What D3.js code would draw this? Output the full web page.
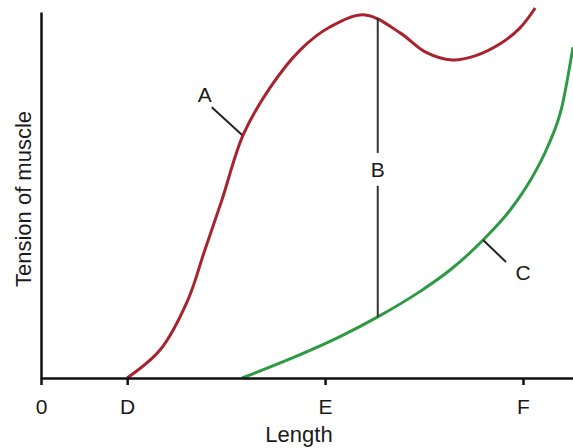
<!DOCTYPE html>
<html>
<head>
  <meta charset="utf-8">
  <style>
    body {
      margin: 0;
      background: white;
      font-family: "Liberation Sans", Arial, Helvetica, sans-serif;
    }
    svg {
      display: block;
    }
  </style>
  <script src="https://d3js.org/d3.v7.min.js"></script>
</head>
<body>
  <svg id="chart"></svg>
<script>
  // Curve A (active + passive tension), length vs tension, arbitrary units
  let curveALength = [16.2, 22.4, 27.6, 30.8, 34.0, 38.0, 43.0, 48.7, 54.3, 60.9, 67.5, 72.2, 77.3, 81.6, 86.3, 90.0, 92.9];
  let curveATension = [0, 7.7, 21.3, 35.0, 48.6, 66.4, 79.2, 89.6, 95.9, 99.2, 94.3, 89.1, 86.9, 88.0, 91.3, 95.6, 101.1];

  // Curve C (passive tension)
  let curveCLength = [37.8, 46.8, 56.2, 63.3, 71.2, 76.9, 83.1, 88.2, 91.9, 95.3, 97.9, 100];
  let curveCTension = [0, 5.2, 11.3, 16.7, 23.6, 29.5, 37.7, 45.9, 53.8, 63.4, 74.0, 90.4];

  // x axis ticks
  let tickValues = [0, 16.2, 53.4, 90.6];
  let tickLabels = ["0", "D", "E", "F"];

  // B: difference between the curves at one length
  let bLength = 63.3;
  let bTop = 98.4;
  let bBottom = 16.7;
  let bLabelTension = 57;
  let bGap = [52.5, 61.5];

  // label leaders
  let labelA = { text: "A", x: 30.8, y: 77.3, from: [32.1, 74.0], to: [37.8, 66.4] };
  let labelC = { text: "C", x: 90.6, y: 28.7, from: [87.4, 31.7], to: [83.1, 37.7] };

  let width = 573;
  let height = 448;
  let margin = { left: 41, top: 12, bottom: 70 };
  let fontSize = 21;

  let svg = d3.select("#chart")
    .attr("width", width)
    .attr("height", height);

  let xScale = d3.scaleLinear()
    .domain([0, 100])
    .range([margin.left, width]);

  let yScale = d3.scaleLinear()
    .domain([0, 100])
    .range([height - margin.bottom, margin.top]);

  let lineA = d3.line()
    .x(d => xScale(d[0]))
    .y(d => yScale(d[1]))
    .curve(d3.curveCatmullRom.alpha(0.5));

  let lineC = d3.line()
    .x(d => xScale(d[0]))
    .y(d => yScale(d[1]))
    .curve(d3.curveMonotoneX);

  let textColor = "#1a1a1a";

  // curves
  svg.append("path")
    .attr("d", lineC(d3.zip(curveCLength, curveCTension)))
    .attr("fill", "none")
    .attr("stroke", "#2f9a45")
    .attr("stroke-width", 3);

  svg.append("path")
    .attr("d", lineA(d3.zip(curveALength, curveATension)))
    .attr("fill", "none")
    .attr("stroke", "#a8232d")
    .attr("stroke-width", 3);

  // B line with a gap for the label
  svg.append("line")
    .attr("x1", xScale(bLength)).attr("x2", xScale(bLength))
    .attr("y1", yScale(bTop)).attr("y2", yScale(bGap[1]))
    .attr("stroke", "#333").attr("stroke-width", 2);
  svg.append("line")
    .attr("x1", xScale(bLength)).attr("x2", xScale(bLength))
    .attr("y1", yScale(bGap[0])).attr("y2", yScale(bBottom))
    .attr("stroke", "#333").attr("stroke-width", 2);
  svg.append("text")
    .attr("x", xScale(bLength))
    .attr("y", yScale(bLabelTension))
    .attr("dy", "0.35em")
    .attr("text-anchor", "middle")
    .attr("font-size", fontSize)
    .attr("fill", textColor)
    .text("B");

  // A and C labels
  [labelA, labelC].forEach(l => {
    svg.append("line")
      .attr("x1", xScale(l.from[0])).attr("y1", yScale(l.from[1]))
      .attr("x2", xScale(l.to[0])).attr("y2", yScale(l.to[1]))
      .attr("stroke", "#222").attr("stroke-width", 2);
    svg.append("text")
      .attr("x", xScale(l.x))
      .attr("y", yScale(l.y))
      .attr("dy", "0.35em")
      .attr("text-anchor", "middle")
      .attr("font-size", fontSize)
      .attr("fill", textColor)
      .text(l.text);
  });

  // axes
  let axisX = d3.axisBottom(xScale)
    .tickValues(tickValues)
    .tickFormat((d, i) => tickLabels[i])
    .tickSizeInner(7)
    .tickSizeOuter(0)
    .tickPadding(14);

  let gx = svg.append("g")
    .attr("transform", `translate(0,${yScale(0)})`)
    .call(axisX);
  gx.select(".domain").attr("stroke", "#111").attr("stroke-width", 2.5);
  gx.selectAll(".tick line").attr("stroke", "#111").attr("stroke-width", 2.5);
  gx.selectAll(".tick text")
    .attr("font-size", fontSize)
    .attr("font-family", "Liberation Sans, Arial, sans-serif")
    .attr("fill", textColor);

  let axisY = d3.axisLeft(yScale)
    .tickValues([])
    .tickSizeOuter(0);

  let gy = svg.append("g")
    .attr("transform", `translate(${margin.left},0)`)
    .call(axisY);
  gy.select(".domain").attr("stroke", "#111").attr("stroke-width", 2.5);

  // axis titles
  svg.append("text")
    .attr("x", 299)
    .attr("y", 442)
    .attr("text-anchor", "middle")
    .attr("font-size", 22)
    .attr("fill", textColor)
    .text("Length");

  svg.append("text")
    .attr("transform", `translate(31,199) rotate(-90)`)
    .attr("text-anchor", "middle")
    .attr("font-size", 22)
    .attr("fill", textColor)
    .text("Tension of muscle");
</script>
</body>
</html>
